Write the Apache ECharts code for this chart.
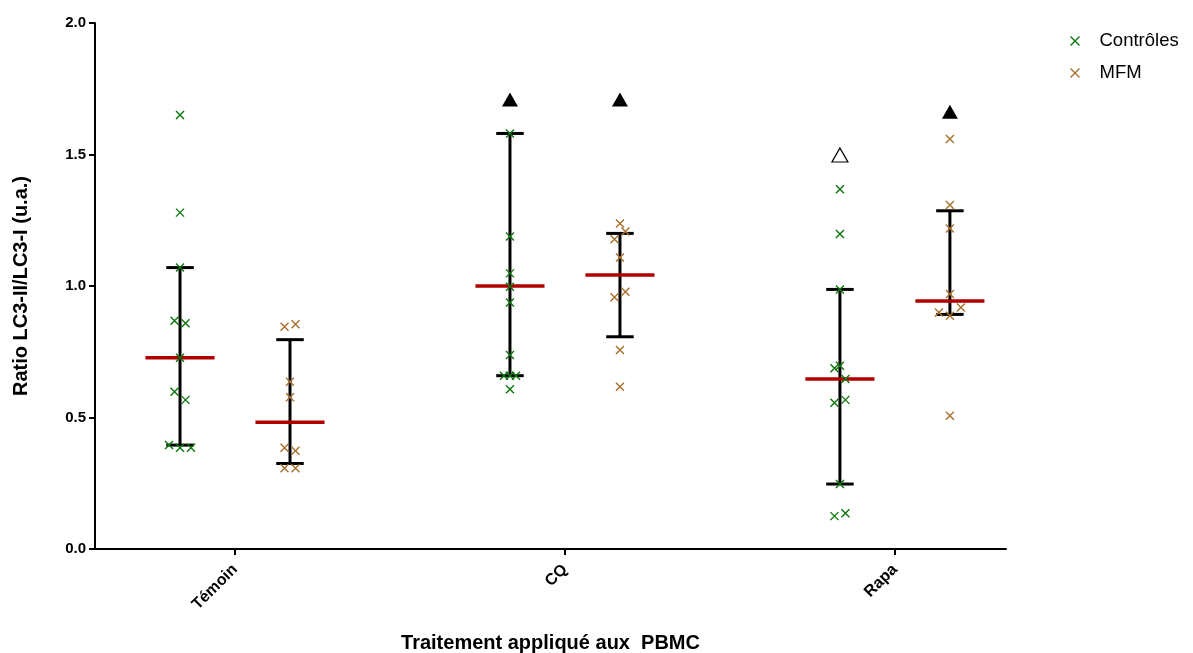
<!DOCTYPE html>
<html>
<head>
<meta charset="utf-8">
<script src="https://cdn.jsdelivr.net/npm/echarts@6/dist/echarts.min.js"></script>
<style>
html,body{margin:0;padding:0;background:#fff;}
#chart{width:1193px;height:653px;}
</style>
</head>
<body>
<div id="chart"></div>
<script>
// ---- data ----
const categories = ['Témoin', 'CQ', 'Rapa'];
const seriesNames = ['Contrôles', 'MFM'];

const temoinCtrl = [1.650, 1.279, 1.070, 0.868, 0.858, 0.727, 0.598, 0.567, 0.395, 0.385, 0.385];
const temoinCtrlJitter = [0, 0, 0, -0.05, 0.05, 0, -0.05, 0.05, -0.1, 0, 0.1];
const temoinMfm = [0.855, 0.845, 0.636, 0.577, 0.385, 0.374, 0.307, 0.307];
const temoinMfmJitter = [0.05, -0.05, 0, 0, -0.05, 0.05, -0.05, 0.05];

const cqCtrl = [1.580, 1.188, 1.048, 0.997, 0.937, 0.738, 0.659, 0.659, 0.659, 0.607];
const cqCtrlJitter = [0, 0, 0, 0, 0, 0, -0.055, 0, 0.055, 0];
const cqMfm = [1.238, 1.207, 1.178, 1.108, 0.978, 0.957, 0.757, 0.617];
const cqMfmJitter = [0, 0.05, -0.05, 0, 0.05, -0.05, 0, 0];

const rapaCtrl = [1.368, 1.198, 0.987, 0.697, 0.687, 0.646, 0.567, 0.556, 0.247, 0.136, 0.125];
const rapaCtrlJitter = [0, 0, 0, 0, -0.05, 0.05, 0.05, -0.05, 0, 0.05, -0.05];
const rapaMfm = [1.559, 1.308, 1.219, 0.970, 0.918, 0.899, 0.887, 0.507];
const rapaMfmJitter = [0, 0, 0, 0, 0.1, -0.1, 0, 0];

// median and interquartile bars, per category
const medianCtrl = [0.727, 1.000, 0.646];
const medianMfm  = [0.482, 1.042, 0.943];
const lowCtrl    = [0.395, 0.659, 0.247];
const lowMfm     = [0.325, 0.807, 0.892];
const highCtrl   = [1.070, 1.580, 0.987];
const highMfm    = [0.796, 1.200, 1.286];

// significance triangles: [categoryIndex, groupIndex(0=Contrôles,1=MFM), value]
const filledTriangles = [[1, 0, 1.709], [1, 1, 1.709], [2, 1, 1.663]];
const openTriangles = [[2, 0, 1.498]];

const yTicks = [0, 0.5, 1.0, 1.5, 2.0];

// ---- layout helpers ----
const colPos = (cat, grp) => cat * 3 + grp;   // column position on the x value axis
const tickPos = categories.map((c, i) => i * 3 + 0.5);

const ctrlSets = [[temoinCtrl, temoinCtrlJitter], [cqCtrl, cqCtrlJitter], [rapaCtrl, rapaCtrlJitter]];
const mfmSets = [[temoinMfm, temoinMfmJitter], [cqMfm, cqMfmJitter], [rapaMfm, rapaMfmJitter]];

function points(sets, grp) {
  const out = [];
  sets.forEach(([vals, jit], ci) => {
    vals.forEach((v, k) => out.push([colPos(ci, grp) + jit[k], v]));
  });
  return out;
}

const barData = [];
categories.forEach((c, ci) => {
  barData.push([colPos(ci, 0), medianCtrl[ci], lowCtrl[ci], highCtrl[ci]]);
  barData.push([colPos(ci, 1), medianMfm[ci], lowMfm[ci], highMfm[ci]]);
});

const green = '#0d750d';
const brown = '#a86f2c';
const cross = 'path://M0,0L10,10M10,0L0,10';
const FONT = '"Liberation Sans", Arial, sans-serif';

const chart = echarts.init(document.getElementById('chart'), null, {renderer: 'canvas'});

chart.setOption({
  animation: false,
  backgroundColor: '#ffffff',
  grid: {left: 95, right: 187, top: 23, bottom: 104, containLabel: false, outerBoundsMode: 'none'},
  legend: {
    orient: 'vertical',
    left: 1063,
    top: 26,
    itemWidth: 9,
    itemHeight: 9,
    itemGap: 12,
    textStyle: {fontFamily: FONT, fontSize: 18.5, color: '#000', padding: [0, 0, 0, 15], lineHeight: 20},
    data: [
      {name: seriesNames[0], icon: cross, itemStyle: {color: 'none', borderColor: green, borderWidth: 1.4, opacity: 1}},
      {name: seriesNames[1], icon: cross, itemStyle: {color: 'none', borderColor: brown, borderWidth: 1.4, opacity: 1}}
    ]
  },
  xAxis: {
    type: 'value',
    min: -0.773,
    max: 7.51,
    splitLine: {show: false},
    axisLine: {show: true, onZero: false, lineStyle: {color: '#000', width: 2}},
    axisTick: {show: true, customValues: tickPos, length: 6, lineStyle: {color: '#000', width: 2}},
    axisLabel: {
      customValues: tickPos,
      rotate: 45,
      margin: 18,
      fontFamily: FONT,
      fontWeight: 'bold',
      fontSize: 16,
      color: '#000',
      formatter: v => categories[Math.round((v - 0.5) / 3)]
    },
    name: 'Traitement appliqué aux  PBMC',
    nameLocation: 'middle',
    nameGap: 84,
    nameTextStyle: {fontFamily: FONT, fontWeight: 'bold', fontSize: 20, color: '#000'}
  },
  yAxis: {
    type: 'value',
    min: 0,
    max: 2,
    interval: 0.5,
    splitLine: {show: false},
    axisLine: {show: true, onZero: false, lineStyle: {color: '#000', width: 2}},
    axisTick: {show: true, length: 6, lineStyle: {color: '#000', width: 2}},
    axisLabel: {
      fontFamily: FONT, fontWeight: 'bold', fontSize: 15, color: '#000', margin: 9,
      formatter: v => yTicks.includes(v) ? v.toFixed(1) : ''
    },
    name: 'Ratio LC3-II/LC3-I (u.a.)',
    nameLocation: 'middle',
    nameGap: 64,
    nameTextStyle: {fontFamily: FONT, fontWeight: 'bold', fontSize: 20, color: '#000'}
  },
  series: [
    {
      type: 'custom',
      name: 'bars',
      z: 2,
      silent: true,
      data: barData,
      renderItem: function (params, api) {
        const x = api.value(0), med = api.value(1), lo = api.value(2), hi = api.value(3);
        const pLo = api.coord([x, lo]);
        const pHi = api.coord([x, hi]);
        const capL = api.coord([x - 0.125, lo])[0];
        const capR = api.coord([x + 0.125, lo])[0];
        const medL = api.coord([x - 0.314, med]);
        const medR = api.coord([x + 0.314, med]);
        const black = {stroke: '#000', lineWidth: 3};
        return {
          type: 'group',
          children: [
            {type: 'line', shape: {x1: pLo[0], y1: pLo[1], x2: pHi[0], y2: pHi[1]}, style: black},
            {type: 'line', shape: {x1: capL, y1: pLo[1], x2: capR, y2: pLo[1]}, style: black},
            {type: 'line', shape: {x1: capL, y1: pHi[1], x2: capR, y2: pHi[1]}, style: black},
            {type: 'line', shape: {x1: medL[0], y1: medL[1], x2: medR[0], y2: medR[1]}, style: {stroke: '#b00000', lineWidth: 3.5}}
          ]
        };
      }
    },
    {
      type: 'scatter',
      name: seriesNames[0],
      z: 4,
      symbol: cross,
      symbolSize: 8,
      itemStyle: {color: 'none', borderColor: green, borderWidth: 1.4, opacity: 1},
      data: points(ctrlSets, 0)
    },
    {
      type: 'scatter',
      name: seriesNames[1],
      z: 4,
      symbol: cross,
      symbolSize: 8,
      itemStyle: {color: 'none', borderColor: brown, borderWidth: 1.4, opacity: 1},
      data: points(mfmSets, 1)
    },
    {
      type: 'scatter',
      name: 'sig',
      z: 5,
      symbol: 'triangle',
      symbolSize: [16, 14],
      itemStyle: {color: '#000', opacity: 1},
      data: filledTriangles.map(t => [colPos(t[0], t[1]), t[2]])
    },
    {
      type: 'scatter',
      name: 'sigOpen',
      z: 5,
      symbol: 'triangle',
      symbolSize: [16, 14],
      itemStyle: {color: '#fff', borderColor: '#000', borderWidth: 1.2, opacity: 1},
      data: openTriangles.map(t => [colPos(t[0], t[1]), t[2]])
    }
  ]
});
</script>
</body>
</html>
